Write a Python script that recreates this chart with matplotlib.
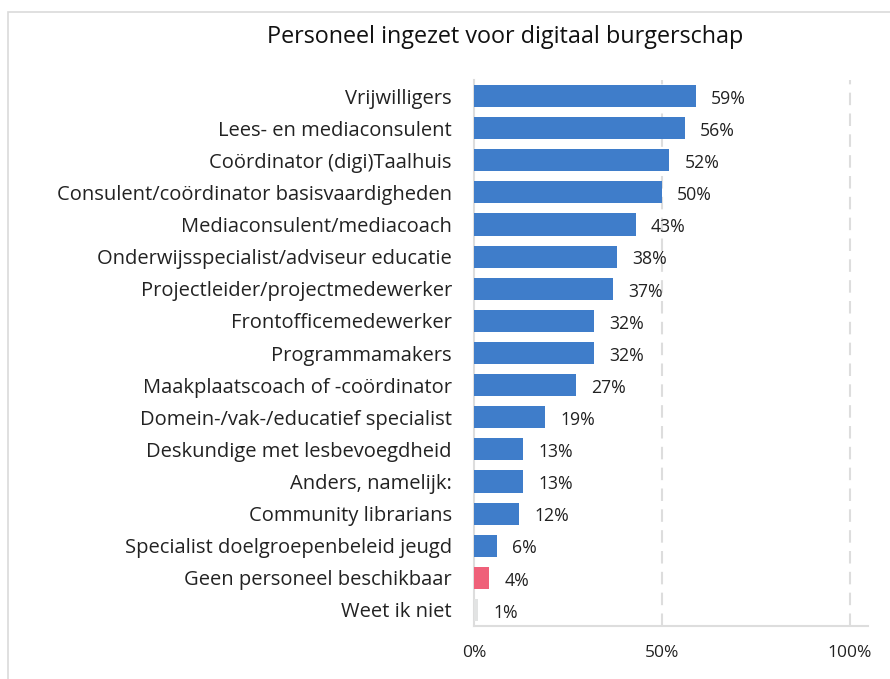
import matplotlib
matplotlib.use("Agg")
import matplotlib.pyplot as plt
from matplotlib.patches import Rectangle

categories = [
    "Vrijwilligers",
    "Lees- en mediaconsulent",
    "Coördinator (digi)Taalhuis",
    "Consulent/coördinator basisvaardigheden",
    "Mediaconsulent/mediacoach",
    "Onderwijsspecialist/adviseur educatie",
    "Projectleider/projectmedewerker",
    "Frontofficemedewerker",
    "Programmamakers",
    "Maakplaatscoach of -coördinator",
    "Domein-/vak-/educatief specialist",
    "Deskundige met lesbevoegdheid",
    "Anders, namelijk:",
    "Community librarians",
    "Specialist doelgroepenbeleid jeugd",
    "Geen personeel beschikbaar",
    "Weet ik niet",
]
values = [59, 56, 52, 50, 43, 38, 37, 32, 32, 27, 19, 13, 13, 12, 6, 4, 1]
xticks = [0, 50, 100]
xtick_labels = ["0%", "50%", "100%"]
title = "Personeel ingezet voor digitaal burgerschap"

blue = "#3F7DCA"
pink = "#EF6079"
grey = "#E2E3E3"
colors = [blue] * len(categories)
colors[categories.index("Geen personeel beschikbaar")] = pink
colors[categories.index("Weet ik niet")] = grey

plt.rcParams["font.family"] = ["Open Sans", "DejaVu Sans"]

fig = plt.figure(figsize=(8.9, 6.79), dpi=100)
# light outer frame
fig.patches.append(Rectangle((8 / 890, -0.1), 1.2, 1 - 12 / 679 + 0.1,
                             transform=fig.transFigure, fill=False,
                             edgecolor="#DADADA", linewidth=1.2))

ax = fig.add_axes([474 / 890, 1 - 626 / 679, (868 - 474) / 890, (626 - 80) / 679])

y = list(range(len(categories)))
ax.barh(y, values, height=0.69, color=colors, zorder=3)
ax.set_ylim(len(categories) - 0.5, -0.5)
ax.set_xlim(0, 104.8)

for yi, v in zip(y, values):
    ax.annotate(f"{v}%", (v, yi), xytext=(11, -2), textcoords="offset points",
                ha="left", va="center", fontsize=12.7, color="#222222")

ax.set_yticks(y)
ax.set_yticklabels(categories, fontsize=14.5, color="#222222")
ax.set_xticks(xticks)
ax.set_xticklabels(xtick_labels, fontsize=12.5, color="#222222")
ax.tick_params(axis="y", length=0, pad=16)
ax.tick_params(axis="x", length=0, pad=14)

for x in xticks[1:]:
    ax.axvline(x, color="#DDDDDD", linestyle=(0, (6, 4)), linewidth=1.5, zorder=1)

for s in ["top", "right"]:
    ax.spines[s].set_visible(False)
ax.spines["left"].set_color("#DDDDDD")
ax.spines["left"].set_linewidth(1.5)
ax.spines["bottom"].set_color("#DDDDDD")
ax.spines["bottom"].set_linewidth(1.5)

fig.text(505 / 890, 1 - 37 / 679, title, ha="center", va="center",
         fontsize=16.8, color="#111111")

fig.savefig("out.png", dpi=100)
